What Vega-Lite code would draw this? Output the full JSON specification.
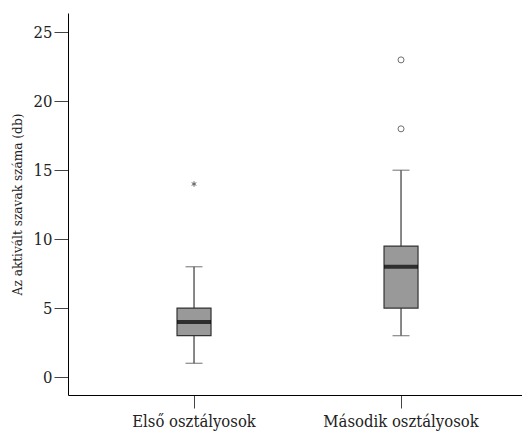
{
  "$schema": "https://vega.github.io/schema/vega-lite/v6.json",
  "width": 455,
  "height": 382,
  "autosize": {"type": "none"},
  "padding": {"left": 68, "top": 13, "right": 0, "bottom": 36},
  "background": "white",
  "config": {
    "view": {"stroke": null},
    "font": "DejaVu Serif Condensed",
    "axis": {
      "grid": false,
      "domainColor": "#000",
      "domainWidth": 1,
      "tickColor": "#444",
      "tickWidth": 1,
      "labelFont": "DejaVu Serif Condensed",
      "titleFont": "DejaVu Serif Condensed",
      "labelColor": "#222",
      "titleColor": "#222",
      "titleFontWeight": "normal",
      "labelFontSize": 16.5
    },
    "axisX": {"tickSize": 13, "labelPadding": 5, "labelAngle": 0},
    "axisY": {"tickSize": 14, "labelPadding": 2, "titleFontSize": 13.5, "titlePadding": 9}
  },
  "datasets": {
    "boxes": [
      {"group": "Első osztályosok", "lower": 1, "q1": 3, "median": 4, "q3": 5, "upper": 8},
      {"group": "Második osztályosok", "lower": 3, "q1": 5, "median": 8, "q3": 9.5, "upper": 15}
    ],
    "outliers": [
      {"group": "Első osztályosok", "value": 14, "kind": "extreme"},
      {"group": "Második osztályosok", "value": 18, "kind": "outlier"},
      {"group": "Második osztályosok", "value": 23, "kind": "outlier"}
    ]
  },
  "encoding": {
    "x": {
      "field": "group",
      "type": "nominal",
      "sort": ["Első osztályosok", "Második osztályosok"],
      "scale": {"paddingInner": 0.5, "paddingOuter": 0.349, "align": 0.514},
      "axis": {"title": null}
    }
  },
  "layer": [
    {
      "mark": {"type": "rule", "color": "#000", "strokeWidth": 1},
      "encoding": {"y": {"datum": 26.4, "type": "quantitative"}}
    },
    {
      "data": {"name": "boxes"},
      "mark": {"type": "rule", "color": "#111", "strokeWidth": 1},
      "encoding": {
        "y": {
          "field": "lower",
          "type": "quantitative",
          "scale": {"domain": [-1.3, 26.4], "nice": false, "zero": false},
          "axis": {
            "title": "Az aktivált szavak száma (db)",
            "values": [0, 5, 10, 15, 20, 25]
          }
        },
        "y2": {"field": "upper"}
      }
    },
    {
      "data": {"name": "boxes"},
      "mark": {"type": "tick", "color": "#555", "size": 17, "thickness": 1.2},
      "encoding": {"y": {"field": "lower", "type": "quantitative"}}
    },
    {
      "data": {"name": "boxes"},
      "mark": {"type": "tick", "color": "#555", "size": 17, "thickness": 1.2},
      "encoding": {"y": {"field": "upper", "type": "quantitative"}}
    },
    {
      "data": {"name": "boxes"},
      "mark": {"type": "bar", "size": 34, "fill": "#999999", "stroke": "#333", "strokeWidth": 1.2},
      "encoding": {
        "y": {"field": "q1", "type": "quantitative"},
        "y2": {"field": "q3"}
      }
    },
    {
      "data": {"name": "boxes"},
      "mark": {"type": "tick", "color": "#000", "size": 34, "thickness": 4},
      "encoding": {"y": {"field": "median", "type": "quantitative"}}
    },
    {
      "data": {"name": "outliers"},
      "transform": [{"filter": "datum.kind === 'outlier'"}],
      "mark": {"type": "point", "shape": "circle", "filled": false, "stroke": "#333", "strokeWidth": 1, "size": 36},
      "encoding": {"y": {"field": "value", "type": "quantitative"}}
    },
    {
      "data": {"name": "outliers"},
      "transform": [{"filter": "datum.kind === 'extreme'"}],
      "mark": {"type": "point", "shape": "M0,-1L0,1M-0.87,-0.5L0.87,0.5M-0.87,0.5L0.87,-0.5", "filled": false, "stroke": "#222", "strokeWidth": 1, "size": 30},
      "encoding": {"y": {"field": "value", "type": "quantitative"}}
    }
  ]
}
